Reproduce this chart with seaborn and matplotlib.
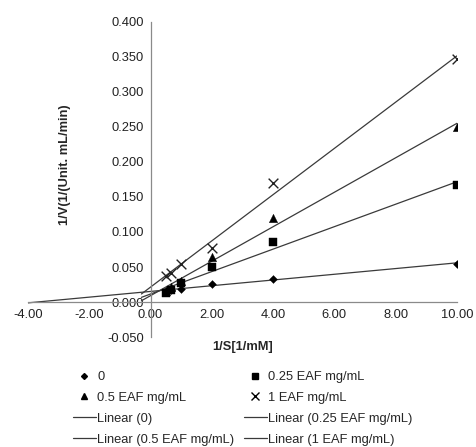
import numpy as np
import pandas as pd
import matplotlib
matplotlib.use("Agg")
import matplotlib.pyplot as plt
import seaborn as sns
from matplotlib.lines import Line2D

sns.set_theme(style="white")
plt.rcParams['font.family'] = ['Liberation Sans', 'DejaVu Sans']

inv_s = [0.5, 0.667, 1.0, 2.0, 4.0, 10.0]
series_names = ["0", "0.25 EAF mg/mL", "0.5 EAF mg/mL", "1 EAF mg/mL"]
v_0 = [0.015, 0.017, 0.019, 0.026, 0.033, 0.055]
v_025 = [0.013, 0.017, 0.027, 0.050, 0.086, 0.167]
v_05 = [0.016, 0.022, 0.030, 0.064, 0.120, 0.250]
v_1 = [0.037, 0.042, 0.055, 0.077, 0.170, 0.347]
line_start = [-4.0, -0.3, -0.3, -0.3]
markers = ["D", "s", "^", "x"]
msizes = [4, 6, 6, 7]
x_ticks = [-4, -2, 0, 2, 4, 6, 8, 10]
y_ticks = [-0.05, 0.0, 0.05, 0.1, 0.15, 0.2, 0.25, 0.3, 0.35, 0.4]

FS = 9.3

fig = plt.figure(figsize=(4.76, 4.47), dpi=100)
ax = fig.add_axes([0.059, 0.246, 0.901, 0.705])

all_vals = [v_0, v_025, v_05, v_1]
marker_handles = []
line_handles = []
for name, vals, m, ms, xs in zip(series_names, all_vals, markers, msizes, line_start):
    df = pd.DataFrame({"x": inv_s, "y": vals})
    slope, icpt = np.polyfit(inv_s, vals, 1)
    lx = np.array([xs, 10.0])
    ldf = pd.DataFrame({"x": lx, "y": slope * lx + icpt})
    sns.lineplot(data=ldf, x="x", y="y", ax=ax, color="#3a3a3a", lw=0.9)
    if m == "x":
        sns.scatterplot(data=df, x="x", y="y", ax=ax, marker="x", s=ms**2,
                        color="#222222", linewidth=1.0, zorder=5)
    else:
        sns.scatterplot(data=df, x="x", y="y", ax=ax, marker=m, s=ms**2,
                        color="black", edgecolor="black", linewidth=0.3, zorder=5)
    marker_handles.append(Line2D([], [], ls="none", marker=m, color="black",
                                 markersize=ms * 0.75, mew=1.0))
    line_handles.append(Line2D([], [], color="#3a3a3a", lw=0.9))

ax.set_xlim(-4, 10)
ax.set_ylim(-0.05, 0.4)
ax.spines['left'].set_position(('data', 0))
ax.spines['bottom'].set_position(('data', 0))
for s in ['top', 'right']:
    ax.spines[s].set_visible(False)
for s in ['left', 'bottom']:
    ax.spines[s].set_color("#8a8a8a")
    ax.spines[s].set_linewidth(0.9)
ax.set_xticks(x_ticks)
ax.set_yticks(y_ticks)
ax.set_xticklabels([f"{v:.2f}" for v in x_ticks], fontsize=FS, color="#222222")
ax.set_yticklabels([f"{v:.3f}" for v in y_ticks], fontsize=FS, color="#222222")
ax.tick_params(axis='both', which='major', length=3, width=0.8, color="#8a8a8a",
               direction='out', pad=2)
ax.set_xlabel("")
ax.set_ylabel("")
fig.text(0.51, 0.224, "1/S[1/mM]", ha="center", va="center", fontsize=FS, fontweight="bold")
fig.text(0.137, 0.632, "1/V(1/(Unit. mL/min)", ha="center", va="center", rotation=90,
         fontsize=FS, fontweight="bold")

labels_m = series_names
labels_l = [f"Linear ({n})" for n in series_names]
handles = [marker_handles[0], marker_handles[2], line_handles[0], line_handles[2],
           marker_handles[1], marker_handles[3], line_handles[1], line_handles[3]]
labels = [labels_m[0], labels_m[2], labels_l[0], labels_l[2],
          labels_m[1], labels_m[3], labels_l[1], labels_l[3]]
fig.legend(handles, labels, ncol=2, loc="upper left", bbox_to_anchor=(0.153, 0.170),
           frameon=False, fontsize=FS, handlelength=1.8, handletextpad=0.1,
           columnspacing=0.7, labelspacing=0.68, borderaxespad=0, borderpad=0)

fig.savefig("out.png", dpi=100, facecolor="white")
